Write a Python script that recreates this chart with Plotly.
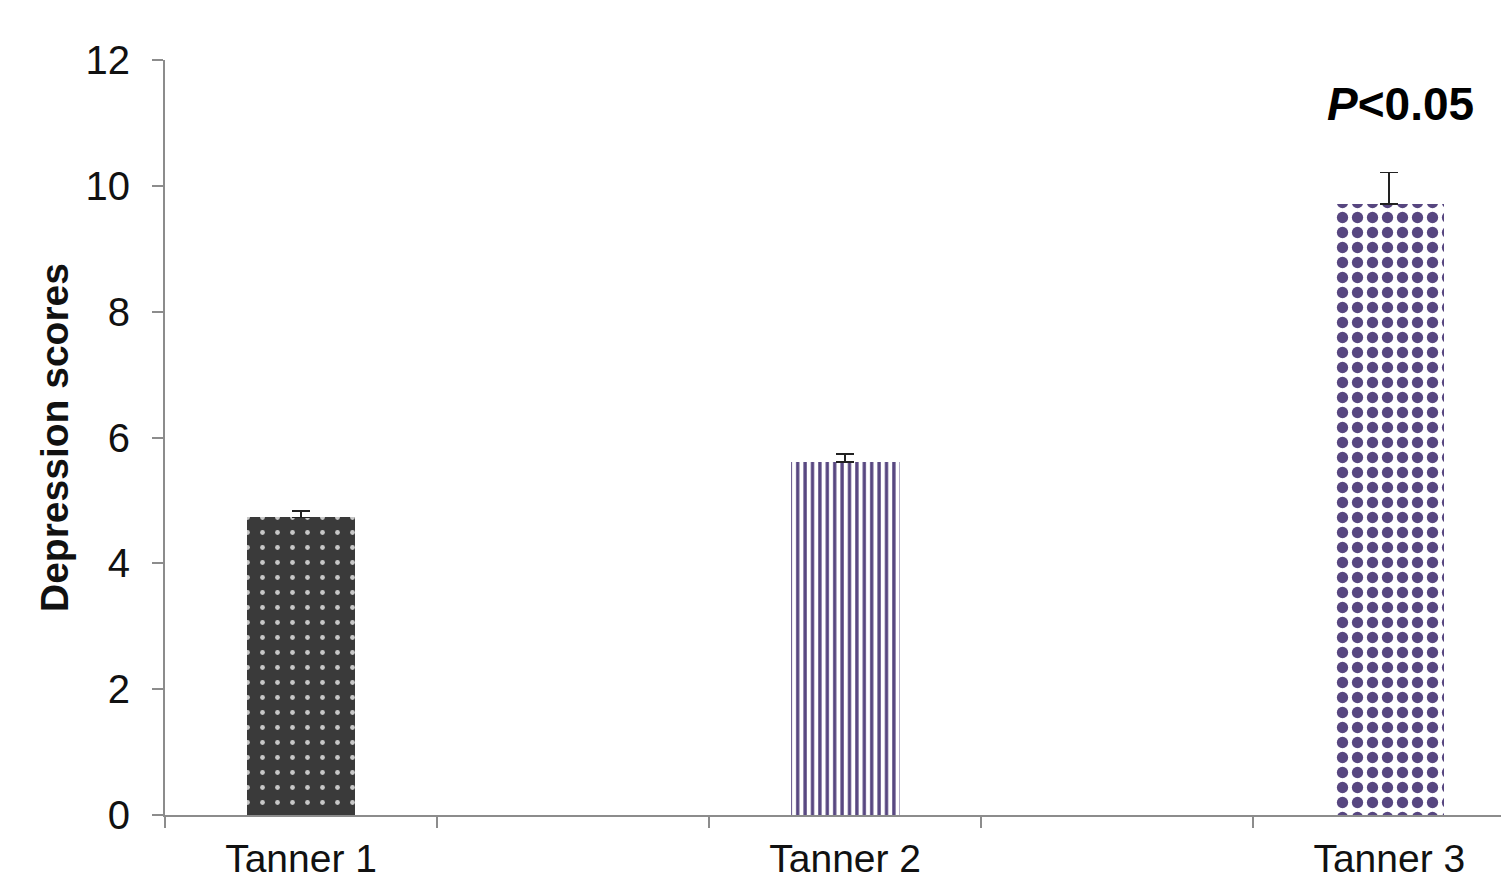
import plotly.graph_objects as go

categories = ["Tanner 1", "Tanner 2", "Tanner 3"]
positions = [0, 2, 4]
means = [4.73, 5.61, 9.71]
errors = [0.10, 0.13, 0.50]
y_ticks = [0, 2, 4, 6, 8, 10, 12]

fig = go.Figure()

styles = [
    dict(shape=".", fgcolor="#c8c8c8", bgcolor="#3a3a3a", size=15, solidity=0.08, fillmode="replace"),
    dict(shape="|", fgcolor="#574680", bgcolor="#ffffff", size=7.4, solidity=0.45, fillmode="replace"),
    dict(shape=".", fgcolor="#574680", bgcolor="#ffffff", size=15, solidity=0.45, fillmode="replace"),
]
for i in range(3):
    fig.add_trace(go.Bar(
        x=[positions[i]], y=[means[i]], width=0.4,
        marker=dict(color=styles[i]["bgcolor"], pattern=styles[i], line=dict(width=0)),
        error_y=dict(type="data", array=[errors[i]], arrayminus=[0], symmetric=False,
                     color="#222222", thickness=1.6, width=9),
        showlegend=False,
    ))

fig.add_annotation(x=4.04, y=11.3, xref="x", yref="y", text="<b><i>P</i>&lt;0.05</b>",
                   showarrow=False, font=dict(family="Liberation Sans, Arial", size=46, color="#000"))

fig.update_layout(
    width=1501, height=874,
    margin=dict(l=157, r=0, t=52, b=67),
    paper_bgcolor="white", plot_bgcolor="white",
    font=dict(family="Liberation Sans, Arial", color="#111"),
    bargap=0,
)
fig.update_xaxes(
    automargin=False,
    range=[-0.5, 4.44], tickvals=positions, ticktext=categories, ticks="",
    tickfont=dict(size=39), showgrid=False, zeroline=False, ticklabelstandoff=8,
    showline=True, linecolor="#8c8c8c", linewidth=2,
    minor=dict(tick0=-0.5, dtick=1, ticks="outside", ticklen=11, tickcolor="#8c8c8c", tickwidth=2, showgrid=False),
)
fig.update_yaxes(
    automargin=False,
    range=[0, 12], tickvals=y_ticks, ticks="outside", ticklen=11, tickcolor="#8c8c8c", tickwidth=2,
    tickfont=dict(size=40), showgrid=False, zeroline=False, ticklabelstandoff=14,
    showline=True, linecolor="#8c8c8c", linewidth=2,
    title=dict(text="<b>Depression scores</b>", font=dict(size=39), standoff=5),
)

fig.write_html("out.html")
